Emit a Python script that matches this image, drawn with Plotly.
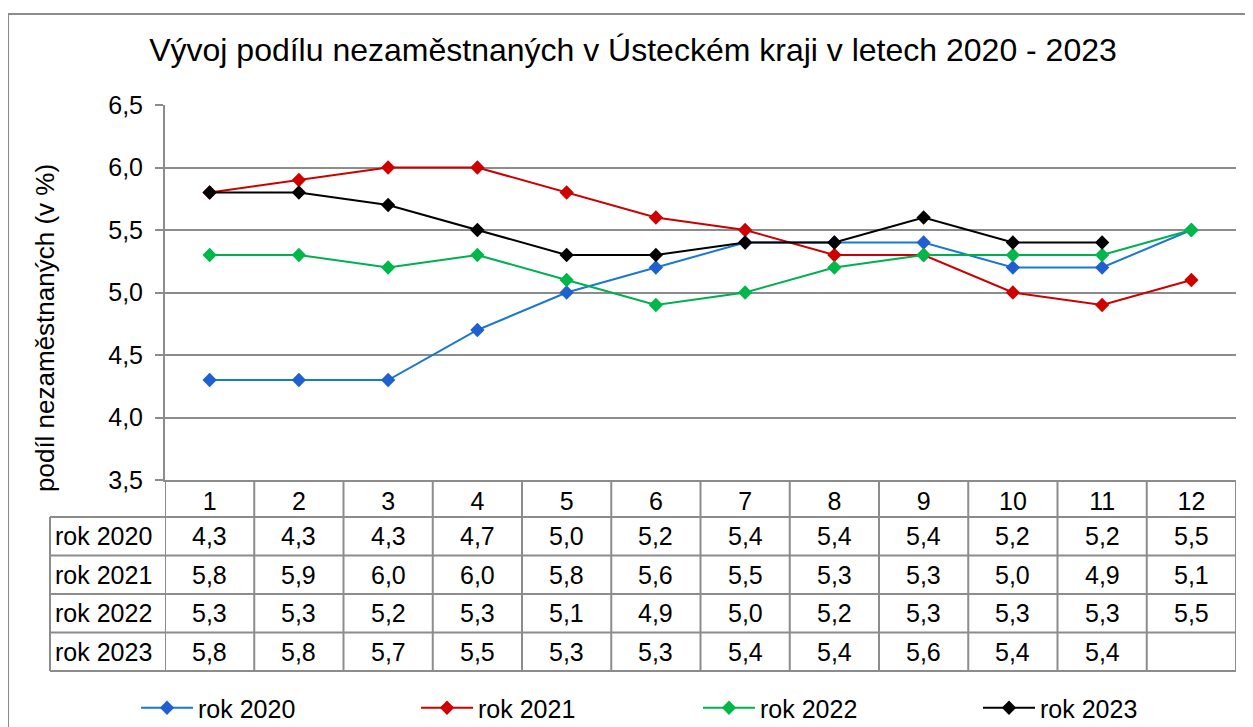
import plotly.graph_objects as go

# ---- data ----
months = [1, 2, 3, 4, 5, 6, 7, 8, 9, 10, 11, 12]
month_labels = ["1", "2", "3", "4", "5", "6", "7", "8", "9", "10", "11", "12"]
series_names = ["rok 2020", "rok 2021", "rok 2022", "rok 2023"]
rok2020 = [4.3, 4.3, 4.3, 4.7, 5.0, 5.2, 5.4, 5.4, 5.4, 5.2, 5.2, 5.5]
rok2021 = [5.8, 5.9, 6.0, 6.0, 5.8, 5.6, 5.5, 5.3, 5.3, 5.0, 4.9, 5.1]
rok2022 = [5.3, 5.3, 5.2, 5.3, 5.1, 4.9, 5.0, 5.2, 5.3, 5.3, 5.3, 5.5]
rok2023 = [5.8, 5.8, 5.7, 5.5, 5.3, 5.3, 5.4, 5.4, 5.6, 5.4, 5.4, None]
y_ticks = [3.5, 4.0, 4.5, 5.0, 5.5, 6.0, 6.5]

title_text = "Vývoj podílu nezaměstnaných v Ústeckém kraji v letech 2020 - 2023"
y_title = "podíl nezaměstnaných (v %)"

# ---- style ----
W, H = 1253, 727
OFF = 8  # page body margin
FONT = "Liberation Sans, Arial, sans-serif"
GREY = "#8c8c8c"
line_colors = ["#1a78d0", "#cc0000", "#00b050", "#000000"]
marker_colors = ["#1f5fd0", "#d00000", "#00b84a", "#000000"]
FS = 25

def px_x(p):
    return (p - OFF) / W

def px_y(p):
    return 1 - (p - OFF) / H

plot_left, plot_right, plot_top, plot_bottom = 165, 1236, 105, 480
table_left = 50
row_edges = [480, 517, 555.5, 594, 632.5, 671]
legend_x_px = [136, 416, 698, 978]
legend_names = ["legend", "legend2", "legend3", "legend4"]

all_series = [rok2020, rok2021, rok2022, rok2023]

fig = go.Figure()
for name, vals, lc, mc, lg in zip(series_names, all_series, line_colors, marker_colors, legend_names):
    fig.add_trace(go.Scatter(
        x=months, y=vals, name=name, mode="lines+markers",
        line=dict(color=lc, width=2),
        marker=dict(symbol="diamond", size=11, color=mc),
        connectgaps=False, legend=lg,
    ))

shapes = []
# outer chart border
shapes.append(dict(type="rect", xref="paper", yref="paper",
                   x0=px_x(8), x1=px_x(1275), y0=px_y(750), y1=px_y(14),
                   line=dict(color=GREY, width=2)))
# table vertical lines at column boundaries
for k in range(len(months) + 1):
    shapes.append(dict(type="line", xref="x", yref="paper",
                       x0=k + 0.5, x1=k + 0.5, y0=px_y(row_edges[0]), y1=px_y(row_edges[-1]),
                       line=dict(color=GREY, width=2)))
# table horizontal lines
for r in row_edges[1:]:
    shapes.append(dict(type="line", xref="paper", yref="paper",
                       x0=px_x(table_left), x1=px_x(plot_right), y0=px_y(r), y1=px_y(r),
                       line=dict(color=GREY, width=2)))
# label column left edge
shapes.append(dict(type="line", xref="paper", yref="paper",
                   x0=px_x(table_left), x1=px_x(table_left), y0=px_y(row_edges[1]), y1=px_y(row_edges[-1]),
                   line=dict(color=GREY, width=2)))

annotations = []
for i, (name, vals) in enumerate(zip(series_names, all_series)):
    yc = px_y((row_edges[i + 1] + row_edges[i + 2]) / 2)
    annotations.append(dict(xref="paper", yref="paper", x=px_x(table_left + 3), y=yc,
                            text=name, showarrow=False, xanchor="left", yanchor="middle",
                            font=dict(family=FONT, size=FS, color="#000000")))
    for m, v in zip(months, vals):
        if v is None:
            continue
        annotations.append(dict(xref="x", yref="paper", x=m, y=yc,
                                text=f"{v:.1f}".replace(".", ","), showarrow=False,
                                xanchor="center", yanchor="middle",
                                font=dict(family=FONT, size=FS, color="#000000")))
# y axis title
annotations.append(dict(xref="paper", yref="paper", x=px_x(45), y=px_y(328),
                        text=y_title, textangle=-90, showarrow=False,
                        xanchor="center", yanchor="middle",
                        font=dict(family=FONT, size=26, color="#000000")))

legend_common = dict(orientation="h", xanchor="left", yanchor="middle",
                     itemwidth=52,
                     font=dict(family=FONT, size=FS, color="#000000"),
                     bgcolor="rgba(0,0,0,0)")
legends = {}
for lg, lx in zip(legend_names, legend_x_px):
    legends[lg] = dict(legend_common, x=px_x(lx), y=px_y(708))

fig.update_layout(
    width=W, height=H,
    margin=dict(l=0, r=0, t=0, b=0, autoexpand=False),
    paper_bgcolor="white", plot_bgcolor="white",
    separators=", ",
    font=dict(family=FONT, size=FS, color="#000000"),
    title=dict(text=title_text, x=px_x(633), xanchor="center",
               y=px_y(50), yanchor="middle", yref="container", xref="container",
               font=dict(family=FONT, size=32, color="#000000")),
    xaxis=dict(domain=[px_x(plot_left), px_x(plot_right)], range=[0.5, 12.5],
               tickmode="array", tickvals=months, ticktext=month_labels,
               showgrid=False, zeroline=False, showline=True, linecolor=GREY, linewidth=2,
               ticks="", ticklabelstandoff=-2, automargin=False,
               tickfont=dict(family=FONT, size=FS, color="#000000")),
    yaxis=dict(domain=[px_y(plot_bottom), px_y(plot_top)], range=[3.5, 6.5],
               tickmode="array", tickvals=y_ticks, tickformat=".1f",
               showgrid=True, gridcolor=GREY, gridwidth=2, zeroline=False,
               showline=True, linecolor=GREY, linewidth=2,
               ticks="outside", ticklen=8, tickcolor=GREY, tickwidth=2,
               ticklabelstandoff=7, automargin=False,
               tickfont=dict(family=FONT, size=FS, color="#000000")),
    shapes=shapes,
    annotations=annotations,
    showlegend=True,
    **legends,
)

fig.write_html("out.html")
